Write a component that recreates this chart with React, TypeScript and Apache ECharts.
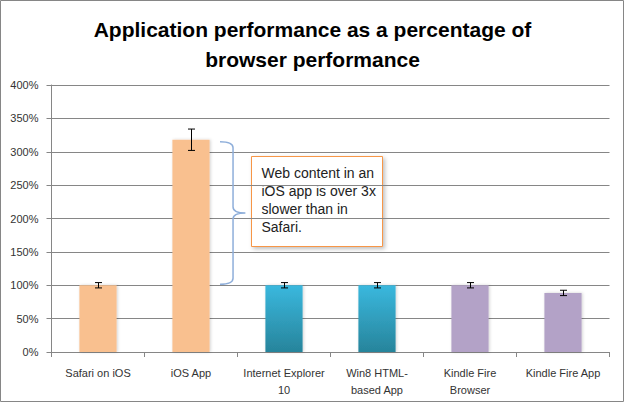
import React, { useEffect, useRef } from "react";
import * as echarts from "echarts";

const categories = [
  "Safari on iOS",
  "iOS App",
  "Internet Explorer\n10",
  "Win8 HTML-\nbased App",
  "Kindle Fire\nBrowser",
  "Kindle Fire App",
];
const values = [100, 318, 100, 100, 100, 88.5];
const errors = [4, 16, 4, 4, 4, 4];
const groups = ["orange", "orange", "teal", "teal", "purple", "purple"];
const braceRange = [1, 100, 318];
const noteLines = ["Web content in an", "iOS app is over 3x", "slower than in", "Safari."];

const FONT = "'Liberation Sans', Arial, sans-serif";

function colorFor(g: string) {
  if (g === "orange") return "#F9C08F";
  if (g === "purple") return "#B3A2C7";
  return new echarts.graphic.LinearGradient(0, 0, 0, 1, [
    { offset: 0, color: "#3AB8DE" },
    { offset: 1, color: "#27849B" },
  ]);
}

export default function App() {
  const ref = useRef<HTMLDivElement>(null);
  useEffect(() => {
    if (!ref.current) return;
    const chart = echarts.init(ref.current, null, { renderer: "svg" });
    const option: any = {
      animation: false,
      backgroundColor: "#ffffff",
      title: {
        text: "Application performance as a percentage of\nbrowser performance",
        left: "center",
        top: 9,
        textStyle: {
          fontFamily: FONT,
          fontSize: 21,
          fontWeight: "bold",
          color: "#000",
          lineHeight: 30,
        },
      },
      grid: { left: 51.5, right: 15.5, top: 85, bottom: 51 },
      xAxis: {
        type: "category",
        data: categories,
        axisLine: { lineStyle: { color: "#868686", width: 1 } },
        axisTick: { show: true, length: 5, lineStyle: { color: "#868686" } },
        axisLabel: {
          fontFamily: FONT,
          fontSize: 11,
          color: "#333",
          lineHeight: 17,
          margin: 12,
          interval: 0,
        },
      },
      yAxis: {
        type: "value",
        min: 0,
        max: 400,
        interval: 50,
        axisLine: { show: true, lineStyle: { color: "#868686" } },
        axisTick: { show: true, length: 5, lineStyle: { color: "#868686" } },
        axisLabel: {
          fontFamily: FONT,
          fontSize: 11,
          color: "#333",
          margin: 13,
          formatter: (v: number) => v + "%",
        },
        splitLine: { lineStyle: { color: "#868686", width: 1 } },
      },
      series: [
        {
          type: "bar",
          barWidth: "40%",
          data: values.map((v, i) => ({
            value: v,
            itemStyle: {
              color: colorFor(groups[i]),
              shadowBlur: 3,
              shadowColor: "rgba(0,0,0,0.18)",
              shadowOffsetX: 1,
              shadowOffsetY: 0,
            },
          })),
          z: 2,
        },
        {
          type: "custom",
          z: 5,
          data: values.map((v, i) => [i, v - errors[i], v + errors[i]]),
          renderItem: (params: any, api: any) => {
            const lo = api.coord([api.value(0), api.value(1)]);
            const hi = api.coord([api.value(0), api.value(2)]);
            const x = Math.round(lo[0]) + 0.5;
            const w = 3.5;
            const s = { stroke: "#000", lineWidth: 1 };
            return {
              type: "group",
              children: [
                { type: "line", shape: { x1: x, y1: hi[1], x2: x, y2: lo[1] }, style: s },
                { type: "line", shape: { x1: x - w, y1: hi[1], x2: x + w, y2: hi[1] }, style: s },
                { type: "line", shape: { x1: x - w, y1: lo[1], x2: x + w, y2: lo[1] }, style: s },
              ],
            };
          },
        },
        {
          type: "custom",
          z: 6,
          data: [braceRange],
          renderItem: (params: any, api: any) => {
            const top = api.coord([api.value(0), api.value(2)]);
            const bot = api.coord([api.value(0), api.value(1)]);
            const bw = api.size([1, 0])[0];
            const x0 = top[0] + bw * 0.312;
            const x1 = top[0] + bw * 0.452;
            const x2 = top[0] + bw * 0.585;
            const yT = top[1] + 2;
            const yB = bot[1] - 1;
            const yM = (yT + yB) / 2;
            const r = 6;
            const d =
              `M${x0} ${yT} Q${x1} ${yT} ${x1} ${yT + r} L${x1} ${yM - r} ` +
              `Q${x1} ${yM} ${x2} ${yM} Q${x1} ${yM} ${x1} ${yM + r} ` +
              `L${x1} ${yB - r} Q${x1} ${yB} ${x0} ${yB}`;
            return {
              type: "path",
              shape: { pathData: d },
              style: { stroke: "#8EAEDA", fill: "none", lineWidth: 1.5 },
            };
          },
        },
      ],
      graphic: [
        {
          type: "rect",
          shape: { x: 0.5, y: 0.5, width: 623, height: 401 },
          style: { fill: "none", stroke: "#868686", lineWidth: 1 },
          z: 100,
        },
        {
          type: "group",
          left: 251,
          top: 156,
          z: 50,
          children: [
            {
              type: "rect",
              shape: { x: 0, y: 0, width: 131, height: 90 },
              style: {
                fill: "#fff",
                stroke: "#F79646",
                lineWidth: 1,
                shadowBlur: 4,
                shadowOffsetX: 2,
                shadowOffsetY: 2,
                shadowColor: "rgba(0,0,0,0.25)",
              },
            },
            {
              type: "text",
              x: 10,
              y: 7,
              style: {
                text: noteLines.join("\n"),
                fontFamily: FONT,
                fontSize: 14,
                lineHeight: 18,
                fill: "#222",
              },
            },
          ],
        },
      ],
    };
    chart.setOption(option);
    return () => chart.dispose();
  }, []);
  return (
    <div
      ref={ref}
      style={{ position: "absolute", left: 0, top: 0, width: 625, height: 403 }}
    />
  );
}
